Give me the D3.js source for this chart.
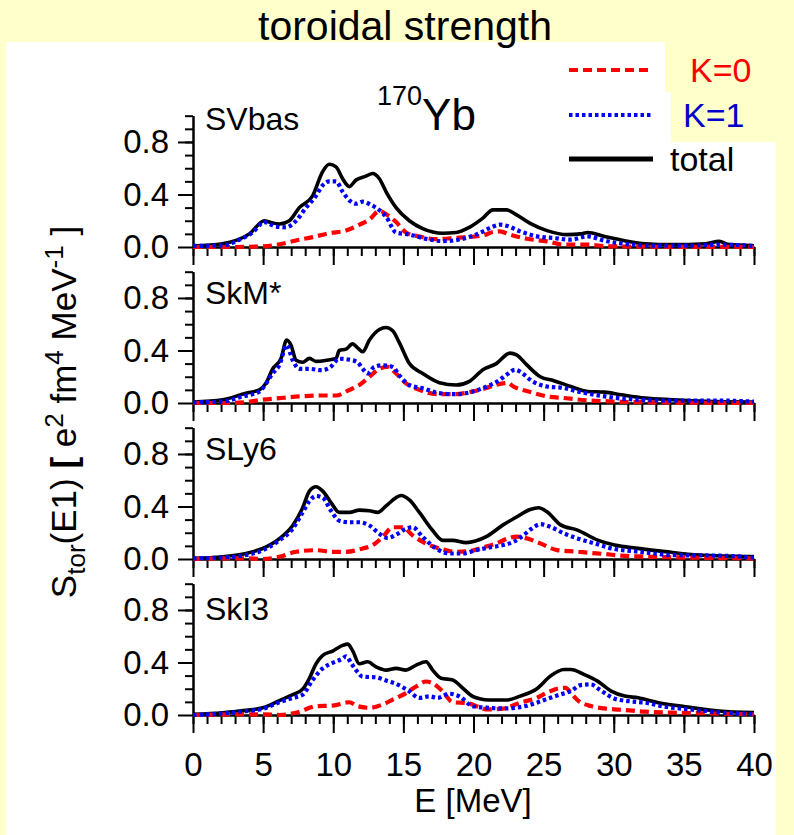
<!DOCTYPE html>
<html>
<head>
<meta charset="utf-8">
<script src="https://cdn.jsdelivr.net/npm/d3@7"></script>
<style>
  html, body { margin: 0; padding: 0; background: #ffffcc; }
  svg { display: block; font-family: "Liberation Sans", Arial, sans-serif; }
</style>
</head>
<body>
<svg id="chart" width="794" height="835"></svg>
<script>
// Toroidal E1 strength in 170Yb for four Skyrme parametrisations.
// Each series is a list of [E (MeV), strength (e^2 fm^4 MeV^-1)] points.

const panelNames = ["SVbas", "SkM*", "SLy6", "SkI3"];
const xTickValues = [0, 5, 10, 15, 20, 25, 30, 35, 40];
const yTickValues = [0, 0.4, 0.8];
const seriesNames = ["K=0", "K=1", "total"];

const svbasTotal = [[0,0.008],[2.11,0.025],[3.07,0.05],[4.02,0.1],[5.09,0.2],[5.44,0.19],[6.16,0.175],[6.87,0.2],[7.58,0.3],[8.53,0.39],[9.25,0.575],[9.72,0.63],[10.2,0.61],[10.67,0.52],[11.15,0.46],[11.62,0.51],[12.34,0.54],[12.81,0.56],[13.29,0.52],[13.77,0.42],[14.48,0.3],[15.43,0.2],[16.38,0.14],[17.8,0.105],[18.76,0.11],[19.71,0.15],[20.67,0.22],[21.39,0.283],[22.35,0.283],[23.07,0.245],[24.04,0.18],[25.24,0.125],[26.69,0.094],[27.65,0.1],[28.13,0.11],[29.34,0.08],[30.78,0.048],[32.23,0.025],[34.15,0.018],[36.56,0.025],[37.52,0.043],[38.24,0.018],[40,0.01]];
const svbasK1 = [[0,0.008],[2.11,0.012],[3.3,0.055],[4.25,0.11],[5.09,0.19],[5.92,0.155],[6.63,0.15],[7.35,0.2],[8.06,0.3],[8.77,0.39],[9.25,0.47],[9.72,0.5],[10.2,0.5],[10.67,0.42],[11.15,0.355],[11.62,0.33],[12.1,0.345],[12.7,0.32],[13.29,0.28],[13.77,0.23],[14.48,0.11],[15.43,0.095],[16.62,0.062],[17.8,0.045],[19.23,0.062],[20.43,0.106],[21.15,0.144],[21.88,0.17],[22.35,0.162],[23.32,0.119],[24.52,0.081],[25.73,0.068],[26.93,0.056],[28.13,0.081],[29.34,0.048],[30.78,0.023],[32.95,0.01],[35.36,0.01],[37.52,0.018],[40,0.008]];
const svbasK0 = [[0,0],[2.59,0],[4.97,0.005],[6.16,0.02],[7.35,0.05],[8.53,0.075],[9.72,0.105],[10.91,0.125],[11.86,0.17],[12.58,0.21],[13.29,0.275],[13.77,0.25],[14.48,0.19],[15.19,0.11],[16.14,0.08],[17.33,0.06],[18.76,0.07],[20.67,0.088],[21.39,0.114],[21.88,0.119],[22.6,0.094],[23.8,0.063],[25.24,0.043],[26.45,0.018],[28.13,0.018],[29.58,0.005],[31.74,0.003],[40,0]];

const skmTotal = [[0,0.008],[2.11,0.025],[3.78,0.075],[4.73,0.1],[5.2,0.15],[5.68,0.26],[6.28,0.34],[6.68,0.48],[6.99,0.44],[7.35,0.325],[7.82,0.31],[8.3,0.34],[8.77,0.317],[9.49,0.325],[10.2,0.34],[10.43,0.4],[10.91,0.41],[11.38,0.45],[11.74,0.42],[12.1,0.39],[12.58,0.48],[13.29,0.56],[13.77,0.575],[14.24,0.55],[14.71,0.46],[15.43,0.3],[16.38,0.225],[17.57,0.155],[18.76,0.137],[19.71,0.165],[20.67,0.253],[21.63,0.3],[22.6,0.38],[23.07,0.367],[23.8,0.29],[24.76,0.2],[25.73,0.17],[26.93,0.126],[28.13,0.088],[29.34,0.083],[30.54,0.063],[32.23,0.038],[34.15,0.025],[36.56,0.013],[40,0.008]];
const skmK1 = [[0,0.005],[2.11,0.012],[3.54,0.05],[4.73,0.087],[5.68,0.225],[6.16,0.29],[6.68,0.44],[7.11,0.325],[7.58,0.26],[8.3,0.26],[9.13,0.25],[9.72,0.267],[10.43,0.337],[11.15,0.33],[11.74,0.31],[12.1,0.26],[12.45,0.225],[12.93,0.275],[13.52,0.287],[14.24,0.275],[14.71,0.21],[15.43,0.137],[16.38,0.112],[17.57,0.075],[18.76,0.067],[19.71,0.08],[20.67,0.114],[21.88,0.177],[22.35,0.215],[22.96,0.253],[23.56,0.22],[24.04,0.177],[25.24,0.126],[26.45,0.114],[27.41,0.088],[28.62,0.063],[29.82,0.043],[31.74,0.025],[34.15,0.018],[37.76,0.018],[40,0.01]];
const skmK0 = [[0,0],[2.59,0],[3.78,0.007],[4.97,0.025],[6.16,0.037],[7.58,0.05],[9.01,0.057],[10.2,0.057],[11.15,0.1],[11.86,0.137],[12.58,0.2],[13.29,0.26],[13.88,0.275],[14.48,0.225],[15.19,0.15],[16.14,0.1],[17.57,0.067],[18.76,0.067],[19.71,0.083],[20.91,0.114],[21.63,0.139],[22.47,0.152],[22.84,0.126],[23.92,0.088],[25.24,0.05],[26.45,0.038],[28.13,0.02],[29.58,0.013],[30.78,0.008],[40,0]];

const sly6Total = [[0,0.005],[2.11,0.017],[3.78,0.042],[4.97,0.08],[6.16,0.155],[7.11,0.255],[7.82,0.39],[8.3,0.517],[8.77,0.55],[9.25,0.517],[9.84,0.43],[10.43,0.355],[11.15,0.355],[11.86,0.372],[12.58,0.367],[13.17,0.355],[13.77,0.405],[14.48,0.467],[14.84,0.484],[15.43,0.45],[16.14,0.355],[17.09,0.217],[17.8,0.142],[18.52,0.142],[19.47,0.125],[20.91,0.17],[22.11,0.26],[23.07,0.32],[24.04,0.377],[24.64,0.39],[25.24,0.36],[26.21,0.26],[27.41,0.22],[28.85,0.144],[30.06,0.106],[31.74,0.081],[33.67,0.056],[36.08,0.03],[40,0.018]];
const sly6K1 = [[0,0.005],[2.11,0.012],[3.78,0.03],[4.97,0.067],[6.16,0.142],[7.11,0.23],[7.82,0.355],[8.3,0.44],[8.77,0.48],[9.25,0.467],[9.84,0.367],[10.43,0.292],[11.15,0.28],[11.86,0.28],[12.58,0.255],[13.29,0.192],[13.88,0.16],[14.48,0.185],[15.19,0.23],[15.66,0.242],[16.38,0.167],[17.33,0.08],[18.28,0.042],[19.23,0.042],[20.19,0.067],[21.15,0.088],[22.11,0.106],[22.84,0.13],[23.56,0.18],[24.16,0.232],[24.76,0.265],[25.48,0.245],[26.45,0.195],[27.41,0.157],[28.62,0.119],[29.82,0.081],[31.74,0.056],[34.15,0.03],[37.76,0.025],[40,0.01]];
const sly6K0 = [[0,0],[2.59,0.005],[3.78,0.005],[4.97,0],[6.16,0.017],[7.35,0.055],[8.77,0.067],[9.96,0.055],[10.91,0.055],[12.1,0.08],[12.81,0.105],[13.52,0.167],[14.24,0.242],[14.95,0.242],[15.66,0.18],[16.62,0.117],[17.57,0.08],[18.76,0.055],[19.71,0.06],[20.67,0.088],[21.63,0.119],[22.47,0.157],[23.07,0.17],[23.8,0.157],[24.76,0.119],[25.96,0.068],[27.41,0.056],[28.13,0.048],[29.34,0.038],[30.54,0.025],[32.23,0.018],[34.15,0.013],[40,0.005]];

const ski3Total = [[0,0.005],[2.11,0.017],[3.78,0.035],[4.97,0.055],[6.16,0.11],[7.11,0.155],[7.82,0.197],[8.3,0.28],[8.77,0.39],[9.25,0.455],[9.96,0.487],[10.67,0.53],[11.03,0.54],[11.38,0.49],[11.86,0.39],[12.45,0.405],[13.05,0.367],[13.77,0.342],[14.48,0.355],[15.19,0.342],[15.91,0.38],[16.62,0.405],[17.09,0.342],[17.69,0.28],[18.52,0.267],[19.23,0.205],[19.94,0.142],[20.43,0.124],[21.15,0.114],[22.35,0.114],[23.32,0.144],[24.52,0.2],[25.48,0.296],[26.45,0.346],[26.93,0.346],[27.9,0.308],[28.85,0.258],[29.82,0.182],[30.78,0.144],[31.74,0.131],[33.19,0.094],[35.11,0.063],[37.52,0.03],[40,0.018]];
const ski3K1 = [[0,0],[2.11,0.012],[3.78,0.03],[4.97,0.047],[6.16,0.097],[7.11,0.13],[7.82,0.155],[8.53,0.267],[9.25,0.355],[9.96,0.397],[10.67,0.43],[10.91,0.447],[11.27,0.397],[11.62,0.342],[12.1,0.292],[13.05,0.287],[13.77,0.262],[14.48,0.237],[15.43,0.18],[16.14,0.13],[16.85,0.142],[17.45,0.13],[18.28,0.162],[18.99,0.142],[19.94,0.067],[20.91,0.056],[22.11,0.05],[23.32,0.06],[24.52,0.094],[25.48,0.131],[26.21,0.157],[26.93,0.182],[27.65,0.228],[28.37,0.233],[28.97,0.195],[30.06,0.124],[31.02,0.106],[32.23,0.094],[33.67,0.063],[35.36,0.043],[37.76,0.018],[40,0.008]];
const ski3K0 = [[0,0],[3.78,0.005],[4.97,0.005],[6.16,0],[7.35,0.017],[8.77,0.067],[9.96,0.072],[11.15,0.097],[11.74,0.067],[12.58,0.055],[13.52,0.08],[14.24,0.117],[15.19,0.167],[15.91,0.217],[16.62,0.255],[17.09,0.242],[17.8,0.18],[18.52,0.097],[19.47,0.092],[20.43,0.06],[20.91,0.043],[22.11,0.048],[23.32,0.094],[24.52,0.131],[25.24,0.17],[25.96,0.2],[26.57,0.207],[26.93,0.17],[27.41,0.114],[28.37,0.068],[29.34,0.05],[30.78,0.038],[32.23,0.025],[34.15,0.018],[36.56,0.013],[40,0.005]];

const panelTotals = [svbasTotal, skmTotal, sly6Total, ski3Total];
const panelK1 = [svbasK1, skmK1, sly6K1, ski3K1];
const panelK0 = [svbasK0, skmK0, sly6K0, ski3K0];

// ---- layout ----
const svg = d3.select("#chart");
const FONT = '"Liberation Sans", Arial, sans-serif';
const baselines = [247, 403, 559, 715];
const panelHeight = 131.3;       // height of the value 1.0
const labelBaselines = [130, 304, 460, 620];

const x = d3.scaleLinear().domain([0, 40]).range([193, 754]);

const styles = {
  total: { stroke: "#000000", width: 3.6, dash: null },
  k0:    { stroke: "#ff0000", width: 4.2, dash: "9,5" },
  k1:    { stroke: "#0000ff", width: 4.2, dash: "3.5,3" }
};

// page background and white plotting sheet
svg.append("rect").attr("width", 794).attr("height", 835).attr("fill", "#ffffcc");
svg.append("rect").attr("x", 6).attr("y", 42).attr("width", 770).attr("height", 793).attr("fill", "#ffffff");
// yellow tags behind the legend keys
svg.append("rect").attr("x", 665).attr("y", 42).attr("width", 112).attr("height", 50).attr("fill", "#ffffcc");
svg.append("rect").attr("x", 671).attr("y", 88).attr("width", 106).attr("height", 54).attr("fill", "#ffffcc");

// title
svg.append("text").attr("x", 405).attr("y", 40).attr("text-anchor", "middle")
  .attr("font-size", 41).attr("font-family", FONT).attr("fill", "#000").text("toroidal strength");

const line = d3.line().curve(d3.curveMonotoneX);

panelNames.forEach((name, i) => {
  const base = baselines[i];
  const y = d3.scaleLinear().domain([0, 1]).range([base, base - panelHeight]);
  const g = svg.append("g");

  // x axis: minor ticks every 1 MeV, major every 5 MeV
  const xMinor = d3.axisBottom(x).tickValues(d3.range(0, 41, 1)).tickSize(9).tickFormat("").tickSizeOuter(0);
  const xMajor = d3.axisBottom(x).tickValues(xTickValues).tickSize(18).tickSizeOuter(0).tickPadding(20)
    .tickFormat(i === panelNames.length - 1 ? d3.format("d") : "");
  g.append("g").attr("transform", `translate(0,${base})`).call(xMinor);
  g.append("g").attr("transform", `translate(0,${base})`).call(xMajor);

  // y axis: minor ticks every 0.1, labelled ticks every 0.4
  const yMinor = d3.axisLeft(y).tickValues(d3.range(1, 11).map(v => v / 10)).tickSize(8).tickFormat("").tickSizeOuter(0);
  const yMajor = d3.axisLeft(y).tickValues(yTickValues).tickSize(15).tickPadding(9).tickSizeOuter(0).tickFormat(d3.format(".1f"));
  g.append("g").attr("transform", `translate(${x(0)},0)`).call(yMinor);
  g.append("g").attr("transform", `translate(${x(0)},0)`).call(yMajor);

  g.selectAll(".domain, .tick line").attr("stroke", "#000").attr("stroke-width", 2);
  g.selectAll(".tick text").attr("font-size", 33).attr("font-family", FONT).attr("fill", "#000");

  // curves
  const drawSeries = (data, st) => {
    g.append("path").datum(data)
      .attr("d", line.x(d => x(d[0])).y(d => y(d[1])))
      .attr("fill", "none").attr("stroke", st.stroke).attr("stroke-width", st.width)
      .attr("stroke-dasharray", st.dash).attr("stroke-linejoin", "round");
  };
  drawSeries(panelTotals[i], styles.total);
  drawSeries(panelK0[i], styles.k0);
  drawSeries(panelK1[i], styles.k1);

  // force label
  g.append("text").attr("x", 205).attr("y", labelBaselines[i])
    .attr("font-size", 32).attr("font-family", FONT).attr("fill", "#000").text(name);
});

// nucleus label
const nuc = svg.append("text").attr("x", 377).attr("y", 130).attr("font-family", FONT).attr("fill", "#000");
nuc.append("tspan").attr("font-size", 27).attr("dy", -25).text("170");
nuc.append("tspan").attr("font-size", 44).attr("dy", 25).text("Yb");

// legend
const legendRows = [
  { label: seriesNames[0], st: styles.k0, y: 70, color: "#ff0000", tx: 690 },
  { label: seriesNames[1], st: styles.k1, y: 115, color: "#0000cc", tx: 683 },
  { label: seriesNames[2], st: { stroke: "#000", width: 5, dash: null }, y: 159, color: "#000000", tx: 670 }
];
legendRows.forEach(r => {
  svg.append("line").attr("x1", 569).attr("x2", 653).attr("y1", r.y).attr("y2", r.y)
    .attr("stroke", r.st.stroke).attr("stroke-width", r.st.width).attr("stroke-dasharray", r.st.dash);
  svg.append("text").attr("x", r.tx).attr("y", r.y).attr("dy", "0.36em")
    .attr("font-size", 34).attr("font-family", FONT).attr("fill", r.color).text(r.label);
});

// axis titles
svg.append("text").attr("x", 473).attr("y", 812).attr("text-anchor", "middle")
  .attr("font-size", 33).attr("font-family", FONT).attr("fill", "#000").text("E [MeV]");

const yTitle = svg.append("text").attr("transform", "translate(76,412) rotate(-90)")
  .attr("text-anchor", "middle").attr("font-size", 35).attr("font-family", FONT).attr("fill", "#000");
yTitle.append("tspan").text("S");
yTitle.append("tspan").attr("font-size", 26).attr("dy", 9).text("tor");
yTitle.append("tspan").attr("dy", -9).text("(E1)  ");
yTitle.append("tspan").attr("font-weight", "bold").text("[");
yTitle.append("tspan").text(" e");
yTitle.append("tspan").attr("font-size", 26).attr("dy", -13).text("2");
yTitle.append("tspan").attr("dy", 13).text(" fm");
yTitle.append("tspan").attr("font-size", 26).attr("dy", -13).text("4");
yTitle.append("tspan").attr("dy", 13).text(" MeV");
yTitle.append("tspan").attr("font-size", 26).attr("dy", -13).text("-1");
yTitle.append("tspan").attr("dy", 13).text(" ]");
</script>
</body>
</html>
